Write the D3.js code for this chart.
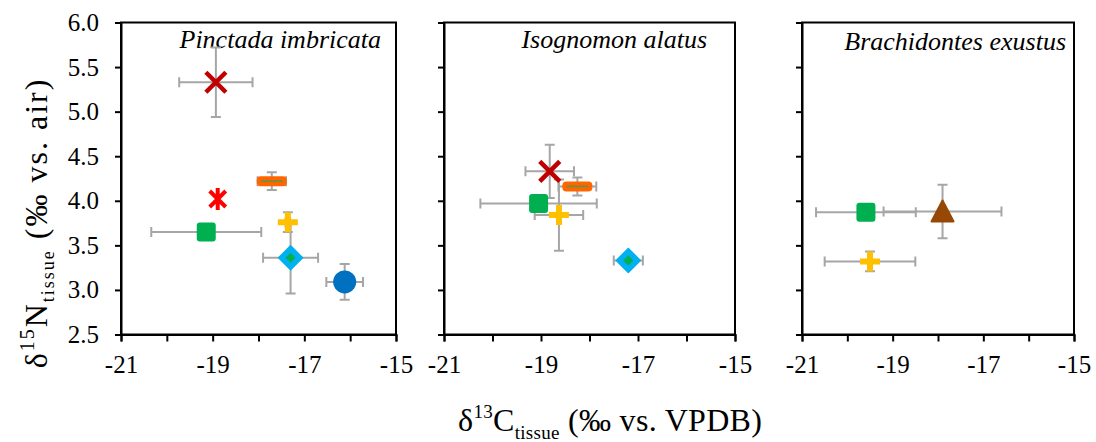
<!DOCTYPE html>
<html>
<head>
<meta charset="utf-8">
<script src="https://cdn.jsdelivr.net/npm/d3@7"></script>
<style>
  body { margin: 0; background: #fff; }
</style>
</head>
<body>
<svg id="chart" width="1096" height="442"></svg>
<script>
// species panels and their pixel extents
const species = ["Pinctada imbricata", "Isognomon alatus", "Brachidontes exustus"];
const panelLeft = [121, 444, 802];
const panelRight = [396, 735, 1074];
const titleRight = [381, 707, 1066];
const titleBase = [48, 48, 50];

const xTicks = [-21, -20, -19, -18, -17, -16, -15];
const xLabels = [-21, -19, -17, -15];
const yTicks = [2.5, 3.0, 3.5, 4.0, 4.5, 5.0, 5.5, 6.0];

// mean d13C, d15N and sd per group
const pinctada = [
  { mark: "cross", c: -18.93, n: 5.33, sc: 0.80, sn: 0.39 },
  { mark: "dash", c: -17.71, n: 4.22, sc: 0.31, sn: 0.10 },
  { mark: "star", c: -18.89, n: 4.02, sc: 0, sn: 0 },
  { mark: "square", c: -19.14, n: 3.65, sc: 1.20, sn: 0 },
  { mark: "plus", c: -17.36, n: 3.76, sc: 0.05, sn: 0.11 },
  { mark: "diamond", c: -17.30, n: 3.36, sc: 0.60, sn: 0.40 },
  { mark: "circle", c: -16.12, n: 3.09, sc: 0.40, sn: 0.20 }
];
const isognomon = [
  { mark: "square", c: -19.05, n: 3.97, sc: 1.20, sn: 0.05 },
  { mark: "plus", c: -18.63, n: 3.84, sc: 0.50, sn: 0.40 },
  { mark: "cross", c: -18.82, n: 4.33, sc: 0.50, sn: 0.30 },
  { mark: "dash", c: -18.25, n: 4.16, sc: 0.39, sn: 0.10 },
  { mark: "diamond", c: -17.20, n: 3.33, sc: 0.30, sn: 0.07 }
];
const brachidontes = [
  { mark: "square", c: -19.59, n: 3.87, sc: 1.10, sn: 0.03 },
  { mark: "triangle", c: -17.90, n: 3.88, sc: 1.30, sn: 0.30 },
  { mark: "plus", c: -19.50, n: 3.32, sc: 1.00, sn: 0.11 }
];
const panelData = [pinctada, isognomon, brachidontes];

const colors = {
  cross: "#C00000", star: "#FF0000", dash: "#FF6600", square: "#00B050",
  plus: "#FFC000", diamond: "#00B0F0", circle: "#0070C0", triangle: "#974706"
};

const svg = d3.select("#chart");
const plotTop = 22.5, plotBottom = 334.5;
const y = d3.scaleLinear().domain([2.5, 6.0]).range([plotBottom, plotTop]);
const errColor = "#A6A6A6";
const serif = "'Liberation Serif', 'Times New Roman', Times, 'DejaVu Serif', serif";

function drawMarker(g, d) {
  const col = colors[d.mark];
  if (d.mark === "cross") {
    g.append("path").attr("d", "M-10,-10L10,10M-10,10L10,-10")
      .attr("stroke", col).attr("stroke-width", 4.5).attr("fill", "none");
  } else if (d.mark === "star") {
    g.append("path").attr("d", "M-8,-8L8,8M-8,8L8,-8M0,-11L0,11")
      .attr("stroke", col).attr("stroke-width", 4).attr("fill", "none");
  } else if (d.mark === "dash") {
    g.append("rect").attr("x", -15).attr("y", -5).attr("width", 30).attr("height", 10)
      .attr("rx", 4).attr("fill", col);
    g.append("line").attr("x1", -11).attr("x2", 11)
      .attr("stroke", "#7F8A3A").attr("stroke-width", 2);
  } else if (d.mark === "square") {
    g.append("rect").attr("x", -9.5).attr("y", -9.5).attr("width", 19).attr("height", 19)
      .attr("rx", 3).attr("fill", col);
  } else if (d.mark === "plus") {
    g.append("path").attr("d", "M-10,0L10,0M0,-10L0,10")
      .attr("stroke", col).attr("stroke-width", 6).attr("fill", "none");
  } else if (d.mark === "diamond") {
    g.append("path").attr("d", "M0,-12L12,0L0,12L-12,0Z").attr("fill", col)
      .attr("stroke", col).attr("stroke-width", 1.5).attr("stroke-linejoin", "round");
    g.append("path").attr("d", "M0,-5L5,0L0,5L-5,0Z").attr("fill", "#00B050");
  } else if (d.mark === "circle") {
    g.append("circle").attr("r", 11.5).attr("fill", col);
  } else if (d.mark === "triangle") {
    g.append("path").attr("d", "M0,-11L11,10L-11,10Z").attr("fill", col)
      .attr("stroke", col).attr("stroke-width", 2).attr("stroke-linejoin", "round");
  }
}

species.forEach(function(name, i) {
  const x = d3.scaleLinear().domain([-21, -15]).range([panelLeft[i], panelRight[i]]);
  const g = svg.append("g");

  // frame
  g.append("rect").attr("x", panelLeft[i]).attr("y", plotTop)
    .attr("width", panelRight[i] - panelLeft[i]).attr("height", plotBottom - plotTop)
    .attr("fill", "none").attr("stroke", "#000").attr("stroke-width", 2);

  const xAxis = g.append("g").attr("transform", "translate(0," + plotBottom + ")")
    .call(d3.axisBottom(x).tickValues(xTicks).tickSize(7).tickPadding(14)
      .tickFormat(function(v) { return xLabels.indexOf(v) >= 0 ? String(v) : ""; }));
  const yAxis = g.append("g").attr("transform", "translate(" + panelLeft[i] + ",0)")
    .call(d3.axisLeft(y).tickValues(yTicks).tickSize(6).tickPadding(16)
      .tickFormat(function(v) { return i === 0 ? d3.format(".1f")(v) : ""; }));
  [xAxis, yAxis].forEach(function(a) {
    a.attr("font-family", serif);
    a.select(".domain").attr("stroke-width", 2).attr("stroke", "#000");
    a.selectAll(".tick line").attr("stroke-width", 2).attr("stroke", "#000");
    a.selectAll(".tick text").attr("font-size", 25).attr("fill", "#000");
  });

  g.append("text").attr("x", titleRight[i]).attr("y", titleBase[i])
    .attr("text-anchor", "end").attr("font-size", 26).attr("font-style", "italic")
    .attr("font-family", serif)
    .text(name);

  const data = panelData[i];
  // error bars
  const cap = 5;
  data.forEach(function(d) {
    const cx = x(d.c), cy = y(d.n);
    if (d.sc > 0) {
      const x0 = x(d.c - d.sc), x1 = x(d.c + d.sc);
      g.append("path").attr("d", "M" + x0 + "," + cy + "L" + x1 + "," + cy +
        "M" + x0 + "," + (cy - cap) + "L" + x0 + "," + (cy + cap) +
        "M" + x1 + "," + (cy - cap) + "L" + x1 + "," + (cy + cap))
        .attr("stroke", errColor).attr("stroke-width", 2).attr("fill", "none");
    }
    if (d.sn > 0) {
      const y0 = y(d.n - d.sn), y1 = y(d.n + d.sn);
      g.append("path").attr("d", "M" + cx + "," + y0 + "L" + cx + "," + y1 +
        "M" + (cx - cap) + "," + y0 + "L" + (cx + cap) + "," + y0 +
        "M" + (cx - cap) + "," + y1 + "L" + (cx + cap) + "," + y1)
        .attr("stroke", errColor).attr("stroke-width", 2).attr("fill", "none");
    }
  });
  data.forEach(function(d) {
    const m = g.append("g").attr("transform", "translate(" + x(d.c) + "," + y(d.n) + ")");
    drawMarker(m, d);
  });
});

// axis titles
const xt = svg.append("text").attr("x", 458).attr("y", 431).attr("font-size", 32)
  .attr("font-family", serif).attr("letter-spacing", 0.3);
xt.append("tspan").text("δ");
xt.append("tspan").attr("font-size", 19).attr("dy", -13).text("13");
xt.append("tspan").attr("dy", 13).text("C");
xt.append("tspan").attr("font-size", 19).attr("dy", 8).text("tissue");
xt.append("tspan").attr("dy", -8).text(" (‰ vs. VPDB)");

const yt = svg.append("text").attr("transform", "translate(47,223) rotate(-90)")
  .attr("text-anchor", "middle").attr("font-size", 32).attr("font-family", serif)
  .attr("letter-spacing", 2);
yt.append("tspan").text("δ");
yt.append("tspan").attr("font-size", 20).attr("dy", -13).text("15");
yt.append("tspan").attr("dy", 13).text("N");
yt.append("tspan").attr("font-size", 18).attr("dy", 7).text("tissue");
yt.append("tspan").attr("dy", -7).text(" (‰ vs. air)");
</script>
</body>
</html>
